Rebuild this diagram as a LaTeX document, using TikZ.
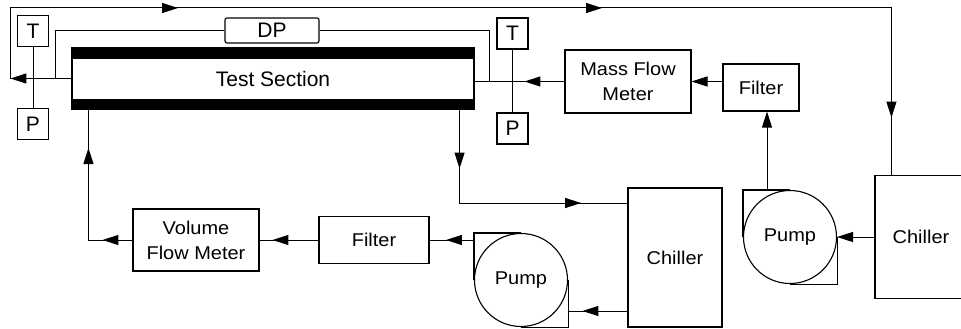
\documentclass[tikz,border=0pt]{standalone}
\usepackage{fontspec}
\setmainfont{Liberation Sans}
\newfontfamily\lblfont{Liberation Sans}[FakeStretch=1.08]
\usetikzlibrary{arrows.meta,calc,decorations.markings}

\begin{document}
\begin{tikzpicture}[
  x=1pt, y=-1pt,
  line width=1pt,
  >={Triangle[length=16pt,width=10pt]},
  box/.style={draw, line width=1.1pt, inner sep=0pt, align=center,
              font=\lblfont\fontsize{18.5}{25}\selectfont},
  gauge/.style={draw, line width=1.1pt, inner sep=0pt, minimum width=31pt,
                minimum height=31pt, font=\fontsize{21}{25}\selectfont},
  pump/.style={box, circle, minimum size=93pt},
  flow/.style={->},
  arr/.style={postaction={decorate, decoration={markings,
      mark=at position #1 with {\arrow{>}}}}},
]
\path[fill=white] (0,0) rectangle (961,329);
\useasboundingbox (0,0) rectangle (961,329);

% ---- test section and gauges
\node[draw, line width=1.1pt, minimum width=402pt, minimum height=61pt, inner sep=0pt,
      font=\fontsize{21}{25}\selectfont] (ts) at (273,78.5) {Test Section};
\fill (ts.north west) rectangle ([yshift=-12pt]ts.north east);
\fill ([yshift=11pt]ts.south west) rectangle (ts.south east);
\node[gauge] (tl) at (33,31) {T};
\node[gauge] (pl) at (33,124) {P};
\node[gauge] (tr) at (512.5,33.5) {T};
\node[gauge] (pr) at (512.5,128.5) {P};
\node[gauge, minimum width=94pt, minimum height=25pt, rounded corners=2pt] (dp) at (272,30.5) {DP};

% ---- refrigerant loop
\node[box, minimum width=126pt, minimum height=63pt] (mfm) at (628,81.5) {Mass Flow\\Meter};
\node[box, minimum width=76pt, minimum height=47pt] (fu) at (761,87.5) {Filter};
\node[pump] (pump2) at (790,237) {Pump};
\node[box, minimum width=92pt, minimum height=123pt] (ch2) at (921,237) {Chiller};
\coordinate (ltop) at (10,8);

% ---- coolant loop
\node[box, minimum width=126pt, minimum height=62pt] (vfm) at (196,240) {Volume\\Flow Meter};
\node[box, minimum width=110pt, minimum height=47pt] (fl) at (374,240) {Filter};
\node[pump] (pump1) at (521,280) {Pump};
\node[box, minimum width=94pt, minimum height=139pt] (ch1) at (675,257.5) {Chiller};

% pump casings
\draw[line width=1.1pt] (pump1.west) |- (pump1.north);
\draw[line width=1.1pt] (pump1.east) |- (pump1.south);
\draw[line width=1.1pt] (pump2.west) |- (pump2.north);
\draw[line width=1.1pt] (pump2.east) |- (pump2.south);

% ---- connections
\draw (tl) -- (pl);
\draw (tr) -- (pr);
\draw ([xshift=-16pt]ts.west) |- (dp.west);
\draw (dp.east) -| ($(ts.east|-mfm.west)+(15,0)$);
\draw[arr=61pt, arr=300pt, arr=724pt, arr=1123pt]
  (ts.west) -| (ltop) -| ([xshift=17pt]ch2.north west);
\draw[arr=40pt] (mfm.west) -- (mfm.west -| ts.east);
\draw[flow] (fu.west |- mfm.east) -- (mfm.east);
\draw[flow] ([xshift=-23pt]pump2.north) -- ([xshift=-23pt]pump2.north |- fu.south);
\draw[flow] (ch2.west) -- (pump2.east);

\draw[arr=45pt] ([yshift=-53.5pt]ch1.west) -- ([yshift=-53.5pt]ch1.west -| pump1.east);
\draw[arr=28pt] (fl.east -| pump1.west) -- (fl.east);
\draw[arr=46pt] (fl.west) -- (vfm.east);
\draw[arr=30pt, arr=136pt] (vfm.west) -| ([xshift=17pt]ts.south west);
\draw[arr=59pt, arr=215pt] ([xshift=-15pt]ts.south east) |- ([yshift=54.5pt]ch1.west);
\end{tikzpicture}
\end{document}
